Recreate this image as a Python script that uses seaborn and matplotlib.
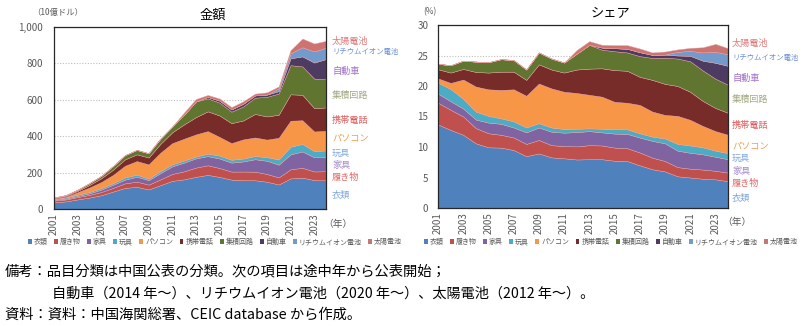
import numpy as np
import pandas as pd
import matplotlib
matplotlib.use('Agg')
import matplotlib.pyplot as plt
import seaborn as sns
from matplotlib.patches import Patch
from matplotlib.ticker import FuncFormatter

sns.set_theme(style='white')
plt.rcParams['font.family'] = ['Noto Sans CJK JP', 'DejaVu Sans']

# ---------------- data ----------------
years = [2001, 2002, 2003, 2004, 2005, 2006, 2007, 2008, 2009, 2010, 2011, 2012,
         2013, 2014, 2015, 2016, 2017, 2018, 2019, 2020, 2021, 2022, 2023, 2024]
categories = ['衣類', '履き物', '家具', '玩具', 'パソコン', '携帯電話', '集積回路',
              '自動車', 'リチウムイオン電池', '太陽電池']

# 金額 (10億ドル)
v_clothes = [36.5, 41.7, 52.6, 62.9, 75.8, 95.9, 115.9, 121.6, 107.5, 131.0, 154.7, 162.9,
             176.7, 187.4, 176.2, 161.5, 158.4, 157.9, 149.9, 134.7, 168.1, 172.5, 158.9, 157.4]
v_shoes = [9.4, 10.7, 13.1, 14.8, 17.5, 20.3, 25.0, 28.6, 26.4, 31.6, 38.0, 44.0,
           50.8, 52.7, 48.9, 44.0, 47.5, 47.2, 42.5, 38.9, 50.0, 53.9, 47.3, 50.1]
v_furn = [4.0, 4.6, 5.7, 8.3, 13.3, 17.4, 20.1, 27.2, 24.6, 34.7, 41.8, 48.1,
          50.8, 50.4, 52.3, 49.3, 55.5, 68.4, 72.5, 69.9, 82.0, 89.8, 77.7, 78.7]
v_toys = [4.8, 6.5, 7.0, 7.7, 8.4, 8.7, 12.2, 11.4, 8.4, 11.0, 11.4, 11.3,
          9.9, 14.1, 15.9, 15.7, 15.8, 17.4, 20.0, 28.5, 42.0, 41.3, 33.8, 35.8]
v_pc = [1.9, 3.3, 13.8, 24.3, 33.1, 45.1, 64.1, 74.4, 78.1, 101.0, 115.8, 119.8,
        121.5, 123.0, 102.3, 91.2, 105.2, 102.0, 96.2, 119.2, 143.0, 130.0, 108.2, 107.3]
v_phone = [4.0, 5.5, 7.7, 14.2, 21.0, 29.1, 35.4, 37.2, 37.9, 48.9, 59.8, 78.9,
           95.0, 108.9, 118.2, 110.1, 104.1, 129.3, 127.4, 126.9, 145.0, 140.0, 128.4, 128.8]
v_ic = [2.4, 3.9, 5.9, 10.1, 13.0, 19.9, 23.2, 24.3, 23.4, 28.4, 31.3, 53.3,
        86.2, 71.4, 70.5, 62.9, 77.0, 89.5, 107.5, 116.6, 160.0, 156.0, 162.2, 155.0]
v_car = [0, 0, 0, 0, 0, 0, 0, 0, 0, 0, 0, 0,
         0, 8.2, 11.4, 12.6, 14.7, 12.4, 12.5, 13.0, 38.0, 55.0, 88.0, 111.0]
v_li = [0, 0, 0, 0, 0, 0, 0, 0, 0, 0, 0, 0,
        0, 0, 0, 0, 0, 0, 0, 15.5, 27.0, 50.0, 61.0, 62.0]
v_solar = [0, 0, 0, 0, 0, 0, 0, 0, 0, 0, 0, 12.3,
           13.3, 10.5, 11.4, 12.6, 13.6, 9.9, 12.5, 10.4, 18.0, 48.0, 44.0, 38.0]

# シェア (%)
s_clothes = [13.7, 12.8, 12.0, 10.6, 9.95, 9.9, 9.5, 8.5, 8.95, 8.3, 8.15, 7.95,
             8.0, 8.0, 7.75, 7.7, 7.0, 6.35, 6.0, 5.2, 5.0, 4.8, 4.7, 4.4]
s_shoes = [3.55, 3.3, 3.0, 2.5, 2.3, 2.1, 2.05, 2.0, 2.2, 2.0, 2.0, 2.15,
           2.3, 2.25, 2.15, 2.1, 2.1, 1.9, 1.7, 1.5, 1.45, 1.5, 1.4, 1.4]
s_furn = [1.5, 1.4, 1.3, 1.4, 1.75, 1.8, 1.65, 1.9, 2.05, 2.2, 2.2, 2.35,
          2.3, 2.15, 2.3, 2.35, 2.45, 2.75, 2.9, 2.7, 2.6, 2.5, 2.3, 2.2]
s_toys = [1.8, 2.0, 1.6, 1.3, 1.1, 0.9, 1.0, 0.8, 0.7, 0.7, 0.6, 0.55,
          0.45, 0.6, 0.7, 0.75, 0.7, 0.7, 0.8, 1.1, 1.2, 1.15, 1.0, 1.0]
s_pc = [0.7, 1.0, 3.15, 4.1, 4.35, 4.65, 5.25, 5.2, 6.5, 6.4, 6.1, 5.85,
        5.5, 5.25, 4.5, 4.35, 4.65, 4.1, 3.85, 4.6, 4.2, 3.5, 3.2, 3.0]
s_phone = [1.5, 1.7, 1.75, 2.4, 2.75, 3.0, 2.9, 2.6, 3.15, 3.1, 3.15, 3.85,
           4.3, 4.65, 5.2, 5.25, 4.6, 5.2, 5.1, 4.9, 4.6, 4.1, 3.8, 3.6]
s_ic = [0.9, 1.2, 1.35, 1.7, 1.7, 2.05, 1.9, 1.7, 1.95, 1.8, 1.65, 2.6,
        3.9, 3.05, 3.1, 3.0, 3.4, 3.6, 4.3, 4.5, 5.0, 5.0, 4.8, 4.6]
s_car = [0, 0, 0, 0, 0, 0, 0, 0, 0, 0, 0, 0,
         0, 0.35, 0.5, 0.6, 0.65, 0.5, 0.5, 0.5, 0.9, 1.6, 2.6, 3.1]
s_li = [0, 0, 0, 0, 0, 0, 0, 0, 0, 0, 0, 0,
        0, 0, 0, 0, 0, 0, 0, 0.6, 0.8, 1.35, 1.8, 1.9]
s_solar = [0, 0, 0, 0, 0, 0, 0, 0, 0, 0, 0, 0.6,
           0.6, 0.45, 0.5, 0.6, 0.6, 0.4, 0.5, 0.4, 0.5, 0.85, 1.3, 1.0]

value_df = pd.DataFrame({'衣類': v_clothes, '履き物': v_shoes, '家具': v_furn, '玩具': v_toys,
                         'パソコン': v_pc, '携帯電話': v_phone, '集積回路': v_ic, '自動車': v_car,
                         'リチウムイオン電池': v_li, '太陽電池': v_solar}, index=years)
share_df = pd.DataFrame({'衣類': s_clothes, '履き物': s_shoes, '家具': s_furn, '玩具': s_toys,
                         'パソコン': s_pc, '携帯電話': s_phone, '集積回路': s_ic, '自動車': s_car,
                         'リチウムイオン電池': s_li, '太陽電池': s_solar}, index=years)

colors = sns.color_palette(['#4F81BD', '#C0504D', '#8064A2', '#4BACC6', '#F79646',
                            '#772C2A', '#5F7530', '#4D3B62', '#729ACA', '#CD7371'])
label_colors = ['#7FA7DB', '#E06A6A', '#A585CC', '#7FA7DB', '#F59A50',
                '#DD5E5E', '#A3AB85', '#A070C8', '#6B8FD6', '#E07B7B']
label_sizes = [6.6, 6.6, 6.6, 6.6, 6.6, 6.6, 6.6, 6.6, 5.3, 6.6]

W, H = 805, 326
fig = plt.figure(figsize=(W / 100, H / 100), dpi=100)
fig.patch.set_facecolor('white')


def fx(px):
    return px / W


def fy(py):
    return 1 - py / H


ax1 = fig.add_axes([fx(54), fy(209), fx(326) - fx(54), fy(27) - fy(209)])
ax2 = fig.add_axes([fx(438), fy(208), fx(728) - fx(438), fy(25) - fy(208)])

grey = '#595959'
for ax, df, ymax, step, ypad in [(ax1, value_df, 1000, 200, 8), (ax2, share_df, 30, 5, 7)]:
    ax.stackplot(df.index, [df[c].values for c in categories], colors=colors,
                 linewidth=0.3, edgecolor='#E8A0A0', zorder=2)
    ax.set_xlim(2001, 2024)
    ax.set_ylim(0, ymax)
    ax.set_yticks(np.arange(0, ymax + step / 2, step))
    ax.yaxis.set_major_formatter(FuncFormatter(lambda v, p: f'{v:,.0f}'))
    ax.set_xticks(years)
    ax.set_xticklabels([str(y) if (y - 2001) % 2 == 0 else '' for y in years], rotation=90)
    ax.tick_params(axis='x', direction='in', length=3, width=0.8, color='#262626',
                   labelsize=7, labelcolor=grey, pad=3)
    ax.tick_params(axis='y', length=0, labelsize=7, labelcolor=grey, pad=ypad)
    ax.yaxis.grid(True, linestyle=(0, (1, 1.5)), color='#BFBFBF', linewidth=0.8)
    ax.xaxis.grid(False)
    ax.set_axisbelow(True)
    for sp in ax.spines.values():
        sp.set_visible(True)
        sp.set_color('#262626')
        sp.set_linewidth(0.9)
    ax.set_facecolor('white')

# titles and units
fig.text(fx(213), fy(15), '金額', ha='center', va='center', fontsize=9.5, color='black')
fig.text(fx(610), fy(14), 'シェア', ha='center', va='center', fontsize=9.5, color='black')
fig.text(fx(32), fy(12), '（10億ドル）', ha='left', va='center', fontsize=6, color=grey)
fig.text(fx(423), fy(12), '(%)', ha='left', va='center', fontsize=6, color=grey)
fig.text(fx(323), fy(224), '（年）', ha='left', va='center', fontsize=7, color=grey)
fig.text(fx(722), fy(222), '（年）', ha='left', va='center', fontsize=7, color=grey)

# series labels to the right of each chart
left_label_y = [195, 177, 165, 153, 138, 120, 95, 71, 52, 41]
right_label_y = [198, 183, 171, 158, 146, 125, 99, 78, 58, 43]
for cat, col, sz, ly, ry in zip(categories, label_colors, label_sizes, left_label_y, right_label_y):
    fig.text(fx(332), fy(ly), cat, ha='left', va='center', fontsize=sz, color=col)
    fig.text(fx(732), fy(ry), cat, ha='left', va='center', fontsize=sz, color=col)

# legends
handles = [Patch(facecolor=c, edgecolor='none', label=n) for c, n in zip(colors, categories)]
for cx in (215, 611):
    leg = fig.legend(handles=handles, loc='center', bbox_to_anchor=(fx(cx), fy(242)), ncol=10,
                     frameon=False, fontsize=5, handlelength=0.55, handleheight=0.55,
                     handletextpad=0.3, columnspacing=0.9, borderpad=0)
    for t in leg.get_texts():
        t.set_color(grey)

# notes
fig.text(fx(5), fy(271), '備考：品目分類は中国公表の分類。次の項目は途中年から公表開始；',
         ha='left', va='center', fontsize=10.3, color='black')
fig.text(fx(52), fy(294), '自動車（2014 年～）、リチウムイオン電池（2020 年～）、太陽電池（2012 年～）。',
         ha='left', va='center', fontsize=10.2, color='black')
fig.text(fx(5), fy(315), '資料：資料：中国海関総署、CEIC database から作成。',
         ha='left', va='center', fontsize=10.3, color='black')

fig.savefig('out.png', dpi=100, facecolor='white')
